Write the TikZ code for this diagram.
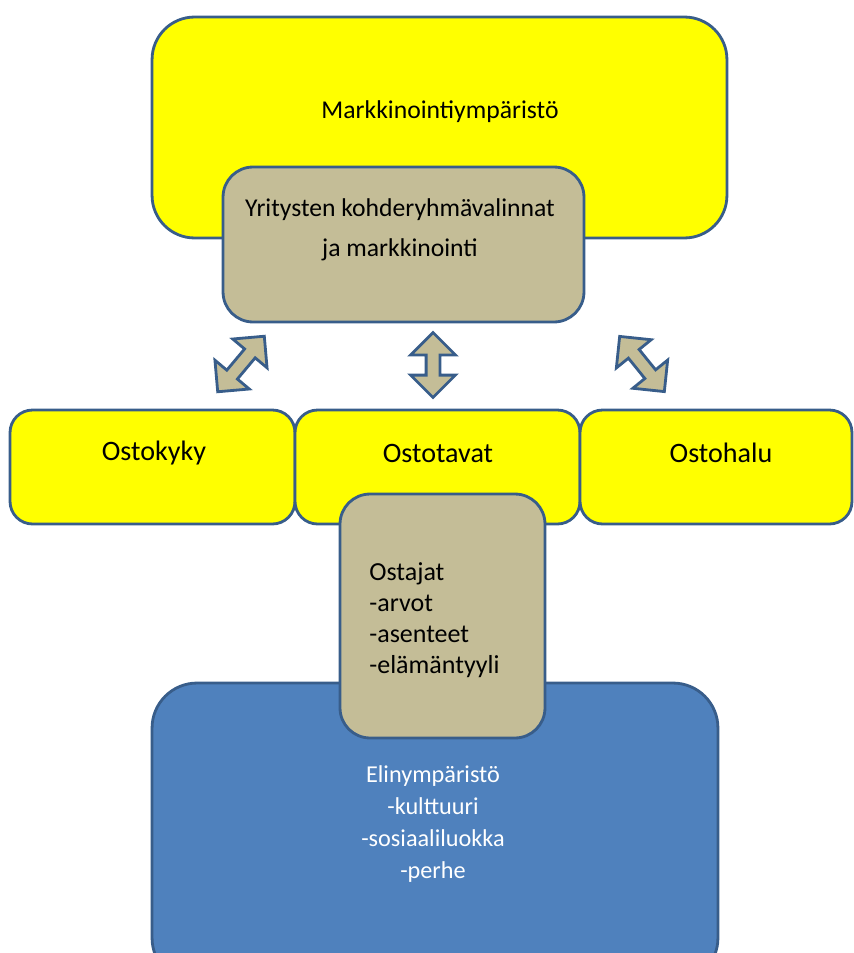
\documentclass[tikz,border=0pt]{standalone}
\usepackage{fontspec}
\setmainfont{Carlito}
\usetikzlibrary{shapes.arrows}

\definecolor{boxyellow}{HTML}{FFFF00}
\definecolor{boxtan}{HTML}{C4BD97}
\definecolor{boxblue}{HTML}{4F81BD}
\definecolor{edgeblue}{HTML}{385D8A}

\begin{document}
\begin{tikzpicture}[
    x=0.02cm, y=-0.02cm,
    panel/.style={
        rectangle,
        draw=edgeblue,
        line width=1.6pt,
        inner sep=0pt
    },
    label/.style={
        font=\fontsize{14.6pt}{18.6pt}\selectfont,
        inner sep=0pt
    },
    twoway/.style={
        double arrow,
        double arrow head extend=0.31cm,
        fill=boxtan,
        draw=edgeblue,
        line width=1.6pt,
        inner xsep=0pt,
        inner ysep=0.11cm
    }
]
\path[use as bounding box, clip] (0,0) rectangle (854,953);

% Marketing environment
\node[panel, fill=boxyellow, rounded corners=0.85cm, minimum width=11.5cm, minimum height=4.42cm] (markkinointi) at (439.5,127.5) {};
\node[label] (markkinointitxt) at (440,112) {Markkinointiympäristö};

% Companies
\node[panel, fill=boxtan, rounded corners=0.6cm, minimum width=7.22cm, minimum height=3.1cm] (yritykset) at (403.5,244.5) {};
\node[label, align=center, font=\fontsize{14.6pt}{22.8pt}\selectfont] (yrityksettxt) at (400,230) {Yritysten kohderyhmävalinnat\\ja markkinointi};

% Arrows
\node[twoway, minimum height=1.45cm, rotate=50] (nuolivasen) at (241,364) {};
\node[twoway, minimum height=1.3cm, rotate=90] (nuolikeski) at (433,365) {};
\node[twoway, minimum height=1.42cm, rotate=-51] (nuolioikea) at (642,364) {};

% Buying
\node[panel, fill=boxyellow, rounded corners=0.45cm, minimum width=5.7cm, minimum height=2.28cm] (ostokyky) at (152.5,467) {};
\node[label, font=\fontsize{16pt}{18pt}\selectfont] (ostokykytxt) at (154,453) {Ostokyky};

\node[panel, fill=boxyellow, rounded corners=0.45cm, minimum width=5.7cm, minimum height=2.28cm] (ostotavat) at (437.5,467) {};
\node[label, font=\fontsize{16pt}{18pt}\selectfont] (ostotavattxt) at (438,453) {Ostotavat};

\node[panel, fill=boxyellow, rounded corners=0.45cm, minimum width=5.44cm, minimum height=2.28cm] (ostohalu) at (716,467) {};
\node[label, font=\fontsize{16pt}{18pt}\selectfont] (ostohalutxt) at (721,453) {Ostohalu};

% Living environment
\node[panel, fill=boxblue, rounded corners=0.9cm, minimum width=11.32cm, minimum height=6cm] (elinymparisto) at (435,833) {};
\node[label, align=center, text=white, font=\fontsize{13.8pt}{18.2pt}\selectfont] (elinymparistotxt) at (433,824) {Elinympäristö\\-kulttuuri\\-sosiaaliluokka\\-perhe};

% Buyers
\node[panel, fill=boxtan, rounded corners=0.6cm, minimum width=4.1cm, minimum height=4.88cm] (ostajat) at (442.5,616) {};
\node[label, align=left, anchor=west, font=\fontsize{14.8pt}{17.6pt}\selectfont] (ostajattxt) at (369,620) {Ostajat\\-arvot\\-asenteet\\-elämäntyyli};

\end{tikzpicture}
\end{document}
